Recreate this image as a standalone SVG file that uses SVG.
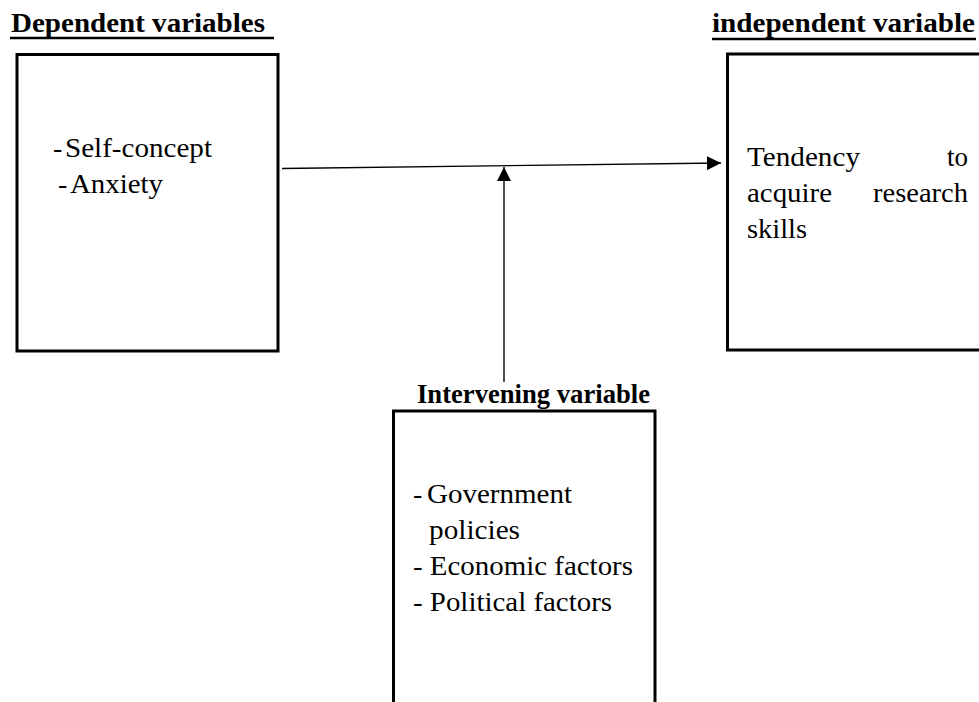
<svg xmlns="http://www.w3.org/2000/svg" width="979" height="702" viewBox="0 0 979 702" font-family="'Liberation Serif', 'Times New Roman', serif">
  <defs>
    <marker id="arrow" viewBox="0 0 14 14" refX="14" refY="7" markerWidth="14" markerHeight="14" markerUnits="userSpaceOnUse" orient="auto">
      <path d="M0,0 L14,7 L0,14 Z" fill="#000000"/>
    </marker>
  </defs>
  <rect width="979" height="702" fill="#ffffff"/>

  <!-- Dependent variables -->
  <g id="dependent" fill="#000000">
    <text x="11" y="32" font-size="27" font-weight="bold" textLength="254" lengthAdjust="spacingAndGlyphs">Dependent variables</text>
    <line x1="10" y1="38" x2="274" y2="38" stroke="#000000" stroke-width="2.5"/>
    <rect x="17" y="54.5" width="261" height="296.5" fill="#ffffff" stroke="#000000" stroke-width="3"/>
    <text x="53" y="157" font-size="28">-</text>
    <text x="65" y="157" font-size="28" textLength="147" lengthAdjust="spacingAndGlyphs">Self-concept</text>
    <text x="58" y="193" font-size="28">-</text>
    <text x="70" y="193" font-size="28" textLength="93" lengthAdjust="spacingAndGlyphs">Anxiety</text>
  </g>

  <!-- Independent variable -->
  <g id="independent" fill="#000000">
    <text x="712" y="32" font-size="27" font-weight="bold" textLength="263" lengthAdjust="spacingAndGlyphs">independent variable</text>
    <line x1="712" y1="39" x2="976" y2="39" stroke="#000000" stroke-width="2.5"/>
    <rect x="727.5" y="54" width="270" height="296" fill="#ffffff" stroke="#000000" stroke-width="3"/>
    <text x="747" y="166" font-size="28" textLength="113" lengthAdjust="spacingAndGlyphs">Tendency</text>
    <text x="947" y="166" font-size="28" textLength="21" lengthAdjust="spacingAndGlyphs">to</text>
    <text x="747" y="202" font-size="28" textLength="85" lengthAdjust="spacingAndGlyphs">acquire</text>
    <text x="873" y="202" font-size="28" textLength="95" lengthAdjust="spacingAndGlyphs">research</text>
    <text x="747" y="238" font-size="28" textLength="60" lengthAdjust="spacingAndGlyphs">skills</text>
  </g>

  <!-- Intervening variable -->
  <g id="intervening" fill="#000000">
    <text x="417" y="403" font-size="27" font-weight="bold" textLength="233" lengthAdjust="spacingAndGlyphs">Intervening variable</text>
    <rect x="393.5" y="411" width="261.5" height="320" fill="#ffffff" stroke="#000000" stroke-width="3"/>
    <text x="413" y="503" font-size="28">-</text>
    <text x="427" y="503" font-size="28" textLength="145" lengthAdjust="spacingAndGlyphs">Government</text>
    <text x="429" y="539" font-size="28" textLength="91" lengthAdjust="spacingAndGlyphs">policies</text>
    <text x="413" y="575" font-size="28" textLength="220" lengthAdjust="spacingAndGlyphs">- Economic factors</text>
    <text x="413" y="611" font-size="28" textLength="199" lengthAdjust="spacingAndGlyphs">- Political factors</text>
  </g>

  <!-- Connectors -->
  <g id="connectors" stroke="#000000" stroke-width="1.4" fill="none">
    <line x1="282" y1="168.5" x2="721" y2="163" marker-end="url(#arrow)"/>
    <line x1="504" y1="382" x2="504" y2="167" marker-end="url(#arrow)"/>
  </g>
</svg>
